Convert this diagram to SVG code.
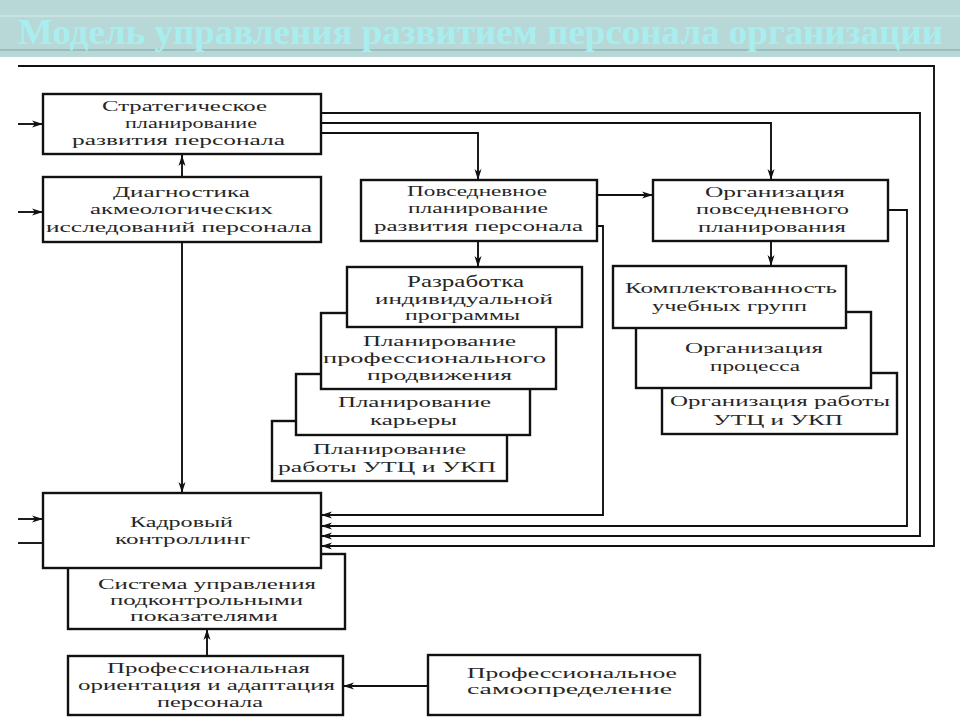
<svg xmlns="http://www.w3.org/2000/svg" width="960" height="720" viewBox="0 0 960 720">
<style>
.box{fill:#fff;stroke:#111;stroke-width:2.4}
.ln{fill:none;stroke:#111;stroke-width:1.9}
.t{font-family:'Liberation Serif','DejaVu Serif','Times New Roman',serif;font-size:15.5px;fill:#262626}
.title{font-family:'Liberation Serif','DejaVu Serif','Times New Roman',serif;font-size:35px;font-weight:bold;fill:#a9eeee}
</style>
<defs>
<marker id="ah" markerUnits="userSpaceOnUse" markerWidth="12" markerHeight="8" refX="11" refY="4" orient="auto">
<path d="M0,0.5 L11,4 L0,7.5 L3,4 z" fill="#111"/>
</marker>
</defs>
<rect x="0" y="0" width="960" height="720" fill="#fff"/>
<g id="title-bar">
<rect x="0" y="0" width="960" height="57" fill="#b8d8d8"/>
<line x1="0" y1="16" x2="960" y2="16" stroke="#cfe6e6" stroke-width="1.5"/>
<line x1="0" y1="50" x2="960" y2="50" stroke="#8fb6b6" stroke-width="1.5"/>
<text class="title" x="18" y="44" textLength="925" lengthAdjust="spacingAndGlyphs">Модель управления развитием персонала организации</text>
</g>
<g id="connectors">
<polyline class="ln" points="18,124 43,124" marker-end="url(#ah)"/>
<polyline class="ln" points="18,212 43,212" marker-end="url(#ah)"/>
<polyline class="ln" points="18,519 43,519" marker-end="url(#ah)"/>
<polyline class="ln" points="43,543 18,543"/>
<polyline class="ln" points="182,177 182,155" marker-end="url(#ah)"/>
<polyline class="ln" points="182,242 182,493" marker-end="url(#ah)"/>
<polyline class="ln" points="321,133 478,133 478,180" marker-end="url(#ah)"/>
<polyline class="ln" points="321,123 771,123 771,180" marker-end="url(#ah)"/>
<polyline class="ln" points="321,113 920,113 920,536 321,536" marker-end="url(#ah)"/>
<polyline class="ln" points="18,66 934,66 934,546 321,546" marker-end="url(#ah)"/>
<polyline class="ln" points="597,195 653,195" marker-end="url(#ah)"/>
<polyline class="ln" points="478,241 478,267" marker-end="url(#ah)"/>
<polyline class="ln" points="597,226 603,226 603,515 321,515" marker-end="url(#ah)"/>
<polyline class="ln" points="771,241 771,266" marker-end="url(#ah)"/>
<polyline class="ln" points="888,210 907,210 907,526 321,526" marker-end="url(#ah)"/>
<polyline class="ln" points="207,656 207,629" marker-end="url(#ah)"/>
<polyline class="ln" points="428,686 343,686" marker-end="url(#ah)"/>
</g>
<g id="strategic">
<rect class="box" x="43" y="94" width="278" height="60"/>
<text class="t" x="102" y="111" textLength="165" lengthAdjust="spacingAndGlyphs">Стратегическое</text>
<text class="t" x="125" y="128" textLength="132" lengthAdjust="spacingAndGlyphs">планирование</text>
<text class="t" x="72" y="145" textLength="213" lengthAdjust="spacingAndGlyphs">развития персонала</text>
</g>
<g id="diagnostics">
<rect class="box" x="43" y="177" width="278" height="65"/>
<text class="t" x="113" y="197" textLength="137" lengthAdjust="spacingAndGlyphs">Диагностика</text>
<text class="t" x="90" y="214" textLength="183" lengthAdjust="spacingAndGlyphs">акмеологических</text>
<text class="t" x="46" y="232" textLength="266" lengthAdjust="spacingAndGlyphs">исследований персонала</text>
</g>
<g id="daily-planning">
<rect class="box" x="361" y="180" width="236" height="61"/>
<text class="t" x="407" y="196" textLength="140" lengthAdjust="spacingAndGlyphs">Повседневное</text>
<text class="t" x="408" y="213" textLength="140" lengthAdjust="spacingAndGlyphs">планирование</text>
<text class="t" x="374" y="231" textLength="209" lengthAdjust="spacingAndGlyphs">развития персонала</text>
</g>
<g id="daily-organization">
<rect class="box" x="653" y="180" width="235" height="61"/>
<text class="t" x="705" y="197" textLength="140" lengthAdjust="spacingAndGlyphs">Организация</text>
<text class="t" x="696" y="214" textLength="153" lengthAdjust="spacingAndGlyphs">повседневного</text>
<text class="t" x="698" y="232" textLength="148" lengthAdjust="spacingAndGlyphs">планирования</text>
</g>
<g id="utc-planning">
<rect class="box" x="272" y="421" width="235" height="60"/>
<text class="t" x="313" y="454" textLength="153" lengthAdjust="spacingAndGlyphs">Планирование</text>
<text class="t" x="278" y="472" textLength="218" lengthAdjust="spacingAndGlyphs">работы УТЦ и УКП</text>
</g>
<g id="career-planning">
<rect class="box" x="296" y="374" width="234" height="61"/>
<text class="t" x="338" y="407" textLength="153" lengthAdjust="spacingAndGlyphs">Планирование</text>
<text class="t" x="370" y="425" textLength="87" lengthAdjust="spacingAndGlyphs">карьеры</text>
</g>
<g id="promotion-planning">
<rect class="box" x="321" y="313" width="235" height="76"/>
<text class="t" x="363" y="346" textLength="153" lengthAdjust="spacingAndGlyphs">Планирование</text>
<text class="t" x="323" y="363" textLength="223" lengthAdjust="spacingAndGlyphs">профессионального</text>
<text class="t" x="367" y="380" textLength="145" lengthAdjust="spacingAndGlyphs">продвижения</text>
</g>
<g id="individual-program">
<rect class="box" x="347" y="267" width="235" height="60"/>
<text class="t" x="407" y="287" textLength="117" lengthAdjust="spacingAndGlyphs" style="font-size:16.5px">Разработка</text>
<text class="t" x="375" y="304" textLength="178" lengthAdjust="spacingAndGlyphs">индивидуальной</text>
<text class="t" x="405" y="320" textLength="115" lengthAdjust="spacingAndGlyphs">программы</text>
</g>
<g id="utc-organization">
<rect class="box" x="662" y="373" width="235" height="61"/>
<text class="t" x="670" y="406" textLength="220" lengthAdjust="spacingAndGlyphs">Организация работы</text>
<text class="t" x="713" y="425" textLength="130" lengthAdjust="spacingAndGlyphs">УТЦ и УКП</text>
</g>
<g id="process-organization">
<rect class="box" x="636" y="312" width="235" height="76"/>
<text class="t" x="685" y="353" textLength="138" lengthAdjust="spacingAndGlyphs">Организация</text>
<text class="t" x="710" y="371" textLength="90" lengthAdjust="spacingAndGlyphs">процесса</text>
</g>
<g id="group-staffing">
<rect class="box" x="613" y="266" width="233" height="62"/>
<text class="t" x="625" y="293" textLength="212" lengthAdjust="spacingAndGlyphs">Комплектованность</text>
<text class="t" x="652" y="311" textLength="155" lengthAdjust="spacingAndGlyphs">учебных групп</text>
</g>
<g id="indicator-system">
<rect class="box" x="68" y="554" width="277" height="75"/>
<text class="t" x="98" y="589" textLength="218" lengthAdjust="spacingAndGlyphs">Система управления</text>
<text class="t" x="110" y="605" textLength="193" lengthAdjust="spacingAndGlyphs">подконтрольными</text>
<text class="t" x="130" y="621" textLength="148" lengthAdjust="spacingAndGlyphs">показателями</text>
</g>
<g id="hr-controlling">
<rect class="box" x="43" y="493" width="278" height="75"/>
<text class="t" x="130" y="527" textLength="103" lengthAdjust="spacingAndGlyphs">Кадровый</text>
<text class="t" x="115" y="544" textLength="135" lengthAdjust="spacingAndGlyphs">контроллинг</text>
</g>
<g id="orientation-adaptation">
<rect class="box" x="68" y="656" width="275" height="59"/>
<text class="t" x="107" y="673" textLength="203" lengthAdjust="spacingAndGlyphs">Профессиональная</text>
<text class="t" x="78" y="690" textLength="257" lengthAdjust="spacingAndGlyphs">ориентация и адаптация</text>
<text class="t" x="157" y="707" textLength="106" lengthAdjust="spacingAndGlyphs">персонала</text>
</g>
<g id="self-determination">
<rect class="box" x="428" y="655" width="272" height="60"/>
<text class="t" x="467" y="678" textLength="210" lengthAdjust="spacingAndGlyphs">Профессиональное</text>
<text class="t" x="467" y="694" textLength="205" lengthAdjust="spacingAndGlyphs">самоопределение</text>
</g>
</svg>
